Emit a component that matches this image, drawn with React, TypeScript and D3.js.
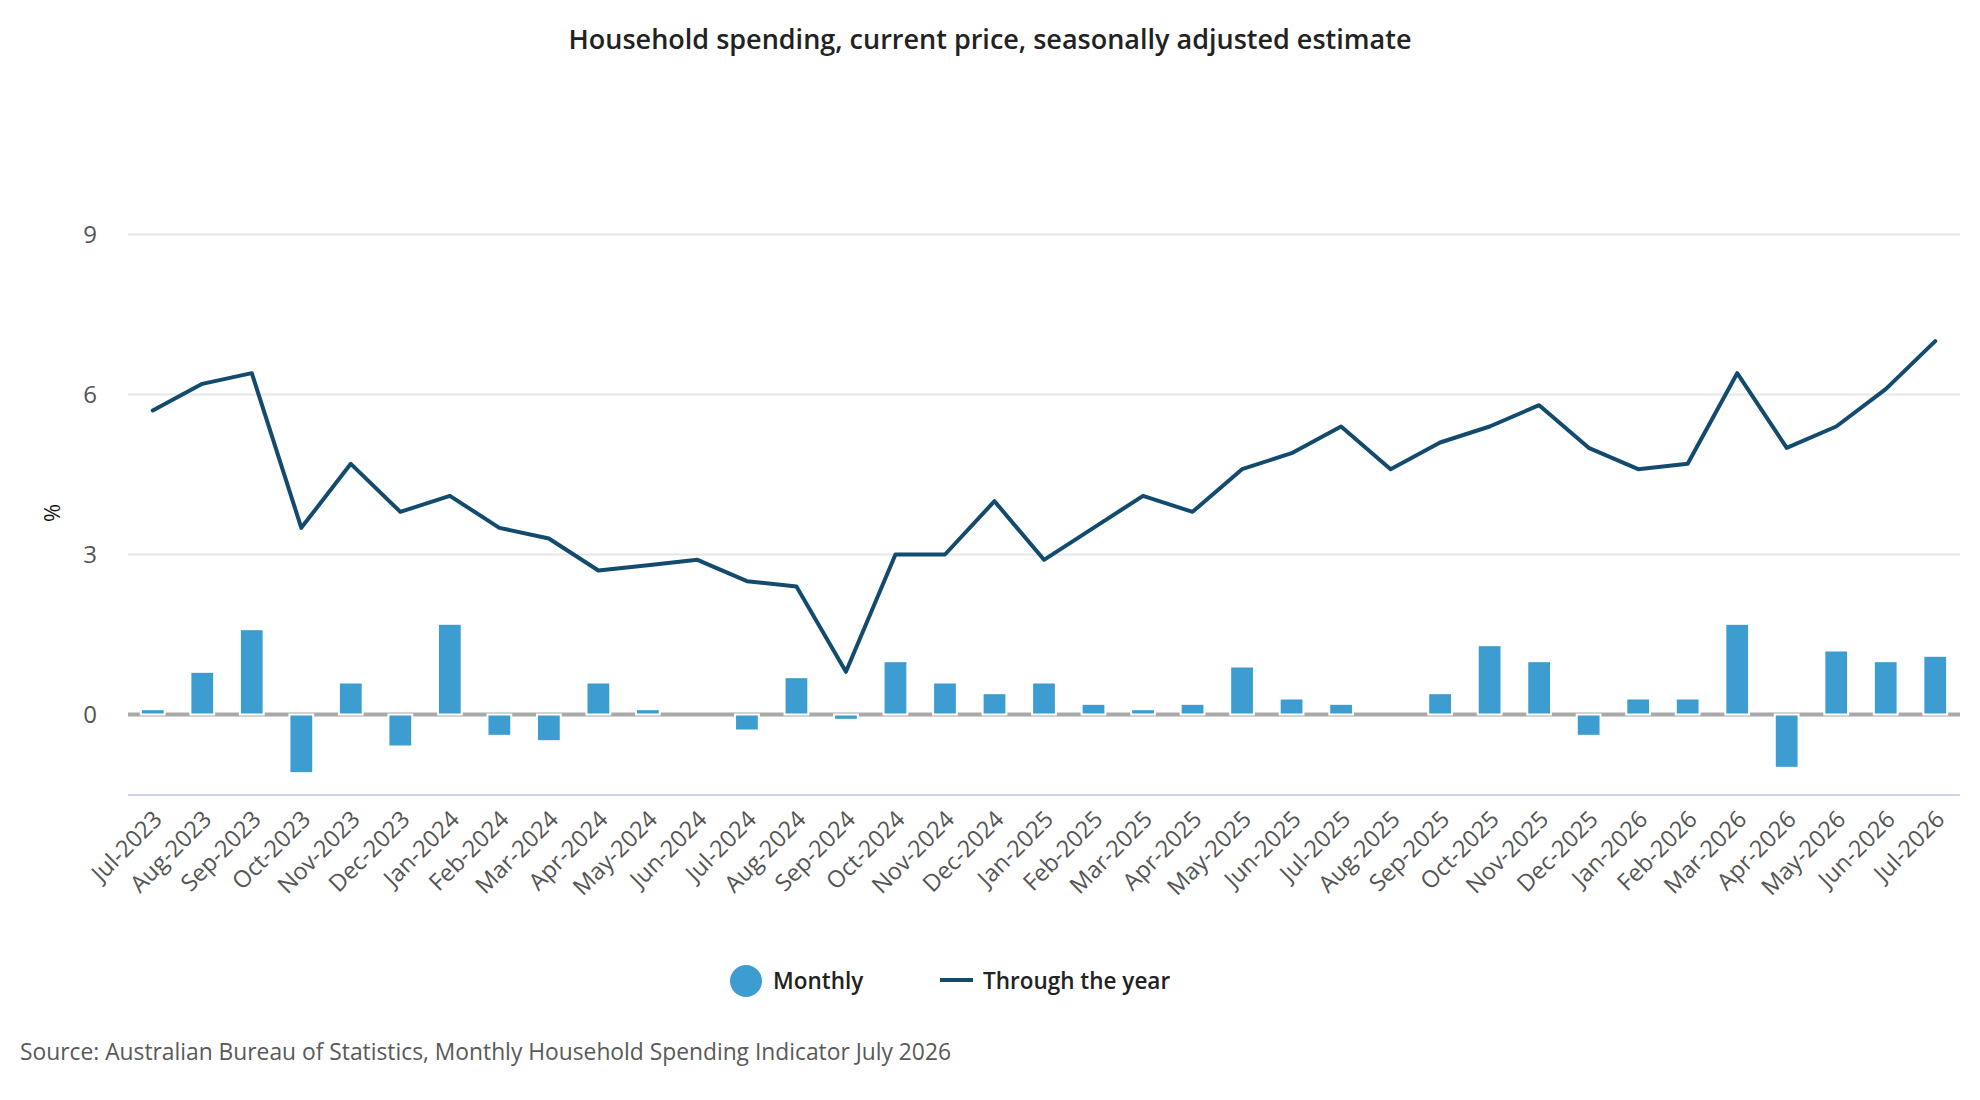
import React from "react";
import * as d3 from "d3";

const months = [
  "Jul-2023","Aug-2023","Sep-2023","Oct-2023","Nov-2023","Dec-2023",
  "Jan-2024","Feb-2024","Mar-2024","Apr-2024","May-2024","Jun-2024",
  "Jul-2024","Aug-2024","Sep-2024","Oct-2024","Nov-2024","Dec-2024",
  "Jan-2025","Feb-2025","Mar-2025","Apr-2025","May-2025","Jun-2025",
  "Jul-2025","Aug-2025","Sep-2025","Oct-2025","Nov-2025","Dec-2025",
  "Jan-2026","Feb-2026","Mar-2026","Apr-2026","May-2026","Jun-2026","Jul-2026",
];

const monthly = [
  0.1, 0.8, 1.6, -1.1, 0.6, -0.6,
  1.7, -0.4, -0.5, 0.6, 0.1, 0.0,
  -0.3, 0.7, -0.1, 1.0, 0.6, 0.4,
  0.6, 0.2, 0.1, 0.2, 0.9, 0.3,
  0.2, 0.0, 0.4, 1.3, 1.0, -0.4,
  0.3, 0.3, 1.7, -1.0, 1.2, 1.0, 1.1,
];

const throughYear = [
  5.7, 6.2, 6.4, 3.5, 4.7, 3.8,
  4.1, 3.5, 3.3, 2.7, 2.8, 2.9,
  2.5, 2.4, 0.8, 3.0, 3.0, 4.0,
  2.9, 3.5, 4.1, 3.8, 4.6, 4.9,
  5.4, 4.6, 5.1, 5.4, 5.8, 5.0,
  4.6, 4.7, 6.4, 5.0, 5.4, 6.1, 7.0,
];

const yTicks = [0, 3, 6, 9];

const titleText = "Household spending, current price, seasonally adjusted estimate";
const sourceText = "Source: Australian Bureau of Statistics, Monthly Household Spending Indicator July 2026";
const seriesNames = ["Monthly", "Through the year"];

const W = 1980;
const H = 1100;
const FONT = "'Segoe UI', 'Open Sans', sans-serif";
const BAR_COLOR = "#3d9dd1";
const LINE_COLOR = "#134b6f";

export default function App() {
  const left = 128;
  const right = 1960;
  const x = d3.scaleBand<string>().domain(months).range([left, right]).padding(0);
  const y = d3.scaleLinear().domain([-1.5, 10.5]).range([794.5, 154.5]);
  const bw = x.bandwidth();
  const barW = bw * 0.6 * 0.8;
  const cx = (m: string) => (x(m) as number) + bw / 2;

  const line = d3
    .line<number>()
    .x((_, i) => cx(months[i]))
    .y((d) => y(d));

  return (
    <svg
      width={W}
      height={H}
      style={{ position: "absolute", left: 0, top: 0, background: "#fff" }}
      fontFamily={FONT}
    >
      <rect x={0} y={0} width={W} height={H} fill="#ffffff" />
      <text x={W / 2} y={49} textAnchor="middle" fontSize={27} fontWeight={600} fill="#222">
        {titleText}
      </text>

      {/* gridlines */}
      {yTicks.map((t) => (
        <line key={t} x1={left} x2={right} y1={y(t)} y2={y(t)} stroke="#e6e6e6" strokeWidth={2} />
      ))}
      {yTicks.map((t) => (
        <text key={"l" + t} x={97} y={y(t)} dy="0.35em" textAnchor="end" fontSize={24} fill="#555">
          {t}
        </text>
      ))}
      <text
        transform={`translate(52,513) rotate(-90)`}
        textAnchor="middle"
        dy="0.35em"
        fontSize={22}
        fill="#111"
      >
        %
      </text>

      {/* x axis line */}
      <line x1={left} x2={right} y1={795} y2={795} stroke="#ccd6eb" strokeWidth={2} />

      {/* zero plot line */}
      <line x1={left} x2={right} y1={y(0)} y2={y(0)} stroke="#a9a9a9" strokeWidth={4} />

      {/* bars */}
      {monthly.map((v, i) => {
        if (v === 0) return null;
        const y0 = y(0);
        const y1 = y(v);
        return (
          <rect
            key={months[i]}
            x={cx(months[i]) - barW / 2}
            y={Math.min(y0, y1)}
            width={barW}
            height={Math.abs(y1 - y0)}
            fill={BAR_COLOR}
            stroke="#ffffff"
            strokeWidth={2}
          />
        );
      })}

      {/* line */}
      <path
        d={line(throughYear) || ""}
        fill="none"
        stroke={LINE_COLOR}
        strokeWidth={4}
        strokeLinejoin="round"
        strokeLinecap="round"
      />

      {/* x labels */}
      {months.map((m) => (
        <text
          key={"x" + m}
          transform={`translate(${cx(m) + 5},${815}) rotate(-45)`}
          textAnchor="end"
          dy="0.35em"
          fontSize={23.5}
          fill="#555"
        >
          {m}
        </text>
      ))}

      {/* legend */}
      <circle cx={746} cy={981} r={16} fill={BAR_COLOR} />
      <text x={773} y={981} dy="0.35em" fontSize={22.5} fontWeight={600} fill="#222">
        {seriesNames[0]}
      </text>
      <line x1={940} x2={973} y1={980} y2={980} stroke={LINE_COLOR} strokeWidth={4} />
      <text x={983} y={981} dy="0.35em" fontSize={22.5} fontWeight={600} fill="#222">
        {seriesNames[1]}
      </text>

      <text x={20} y={1052} dy="0.35em" fontSize={22.8} fill="#595959">
        {sourceText}
      </text>
    </svg>
  );
}
